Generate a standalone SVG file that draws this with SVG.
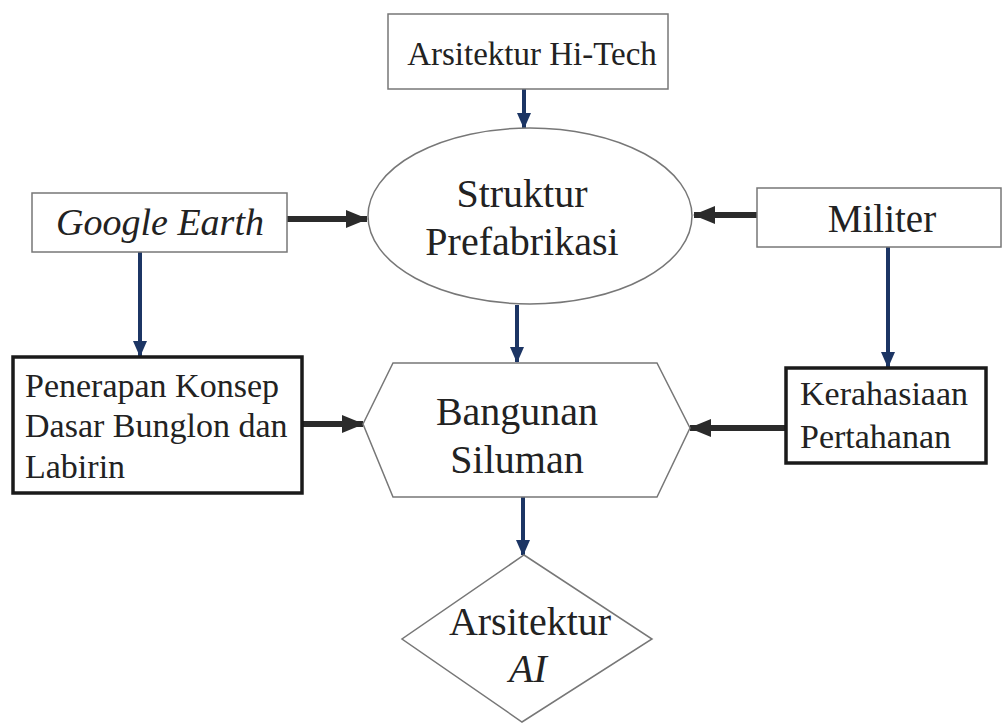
<svg xmlns="http://www.w3.org/2000/svg" width="1003" height="723" viewBox="0 0 1003 723">
<style>
.thin{fill:#fff;stroke:#777;stroke-width:1.5}
.thick{fill:#fff;stroke:#1a1a1a;stroke-width:3.5}
text{fill:#222;text-anchor:middle}
.st{text-anchor:start}
.nv{stroke:#1c3564;stroke-width:4;fill:none}
.bk{stroke:#2b2b2b;stroke-width:6;fill:none}
</style>
<defs>
<marker id="an" markerUnits="userSpaceOnUse" markerWidth="16" markerHeight="16" refX="15" refY="8" orient="auto" viewBox="0 0 16 16">
<path d="M0,1 L16,8 L0,15 Z" fill="#1c3564"/>
</marker>
<marker id="ab" markerUnits="userSpaceOnUse" markerWidth="22" markerHeight="20" refX="21" refY="10" orient="auto" viewBox="0 0 22 20">
<path d="M0,1 L22,10 L0,19 Z" fill="#2b2b2b"/>
</marker>
</defs>
<g id="connectors">
<line class="nv" x1="524" y1="89" x2="524" y2="128" marker-end="url(#an)"/>
<line class="bk" x1="287" y1="219" x2="367" y2="219" marker-end="url(#ab)"/>
<line class="bk" x1="757" y1="215" x2="694" y2="215" marker-end="url(#ab)"/>
<line class="nv" x1="140" y1="252" x2="140" y2="356" marker-end="url(#an)"/>
<line class="nv" x1="888" y1="247" x2="888" y2="367" marker-end="url(#an)"/>
<line class="nv" x1="517" y1="305" x2="517" y2="362" marker-end="url(#an)"/>
<line class="bk" x1="302" y1="424" x2="363" y2="424" marker-end="url(#ab)"/>
<line class="bk" x1="786" y1="428" x2="690" y2="428" marker-end="url(#ab)"/>
<line class="nv" x1="523" y1="497" x2="523" y2="555" marker-end="url(#an)"/>
</g>
<g font-family="Liberation Serif, Times New Roman, serif">
<g id="hitech">
<rect class="thin" x="388" y="14" width="280" height="75"/>
<text x="532" y="65" font-size="33">Arsitektur Hi-Tech</text>
</g>
<g id="struktur">
<ellipse class="thin" cx="530" cy="216" rx="162" ry="88"/>
<text x="522" y="207" font-size="40">Struktur</text>
<text x="522" y="255" font-size="40">Prefabrikasi</text>
</g>
<g id="google">
<rect class="thin" x="32" y="193" width="255" height="59"/>
<text x="160" y="235" font-size="38" font-style="italic">Google Earth</text>
</g>
<g id="militer">
<rect class="thin" x="757" y="188" width="244" height="59"/>
<text x="882" y="232" font-size="39">Militer</text>
</g>
<g id="penerapan">
<rect class="thick" x="13" y="357" width="289" height="136"/>
<text class="st" x="25" y="397" font-size="34">Penerapan Konsep</text>
<text class="st" x="25" y="437" font-size="34">Dasar Bunglon dan</text>
<text class="st" x="25" y="478" font-size="34">Labirin</text>
</g>
<g id="bangunan">
<polygon class="thin" points="363,424 393,363 657,363 690,428 657,497 393,497"/>
<text x="517" y="425" font-size="40">Bangunan</text>
<text x="517" y="473" font-size="40">Siluman</text>
</g>
<g id="kerahasiaan">
<rect class="thick" x="786" y="368" width="200" height="95"/>
<text class="st" x="800" y="405" font-size="34">Kerahasiaan</text>
<text class="st" x="800" y="448" font-size="34">Pertahanan</text>
</g>
<g id="ai">
<polygon class="thin" points="524,555 652,639 522,722 402,639"/>
<text x="530" y="635" font-size="40">Arsitektur</text>
<text x="528" y="682" font-size="40" font-style="italic">AI</text>
</g>
</g>
</svg>
